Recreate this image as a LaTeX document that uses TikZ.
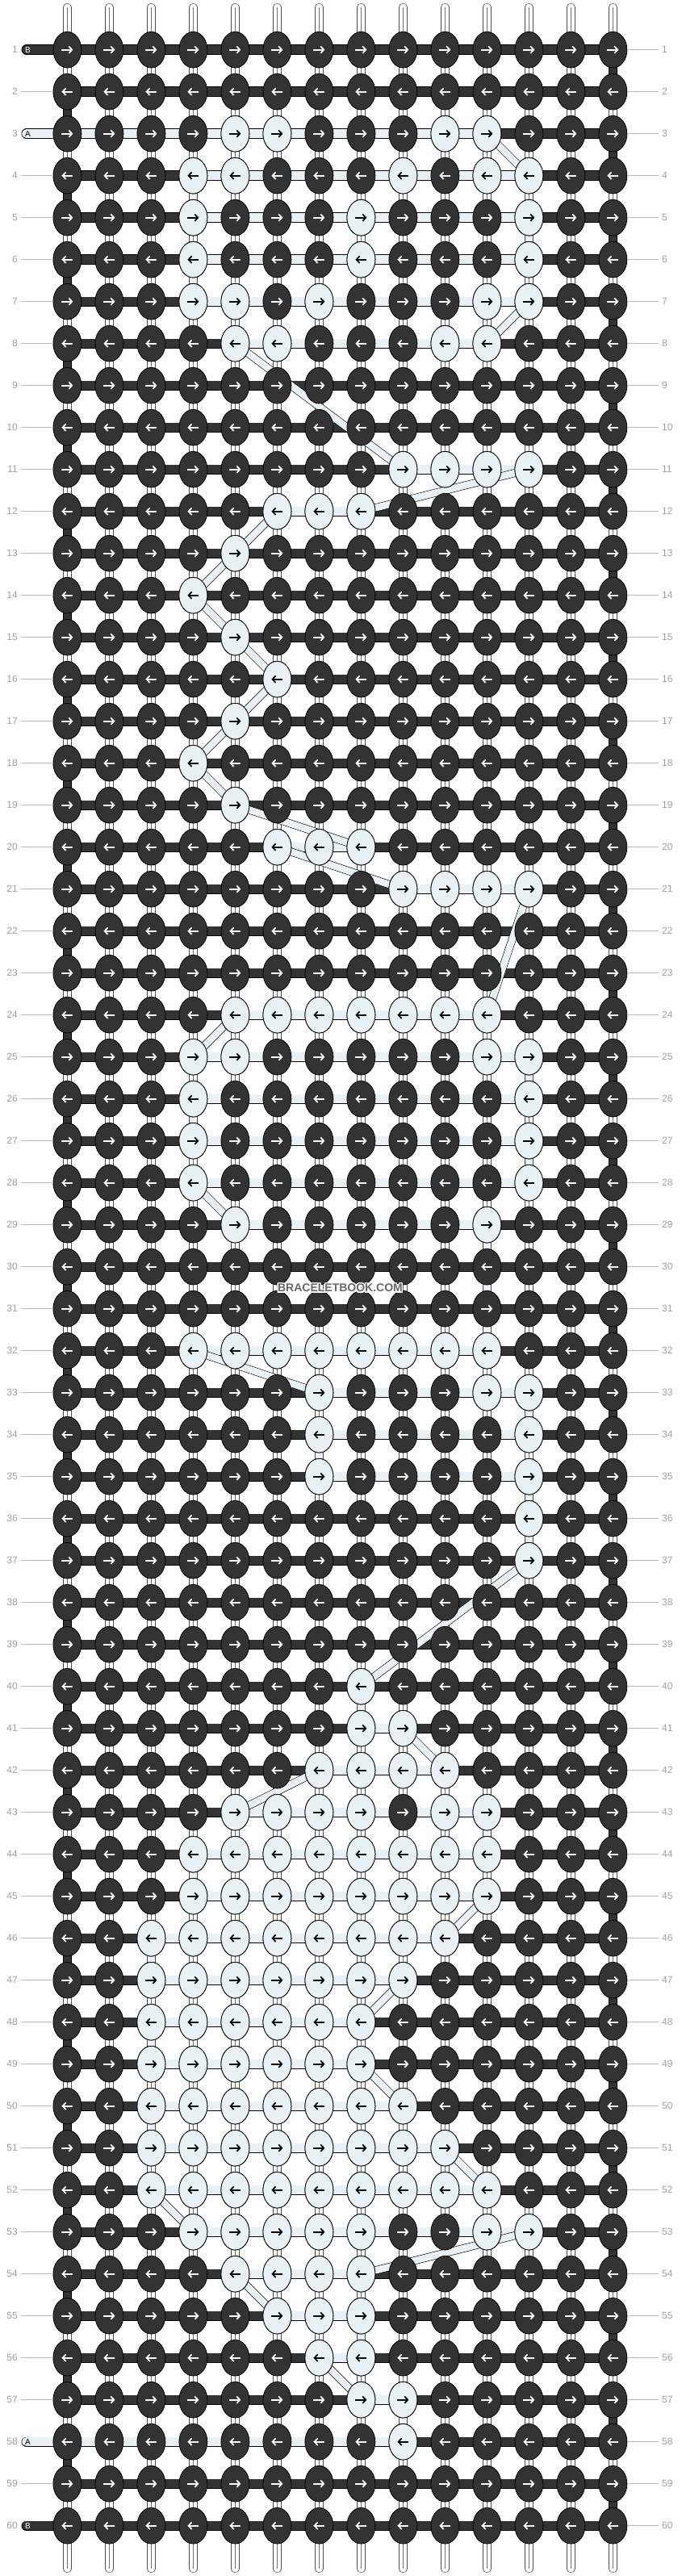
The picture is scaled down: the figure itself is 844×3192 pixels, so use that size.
\documentclass[tikz,border=0pt]{standalone}
\usepackage{fontspec}
\setmainfont{Liberation Sans}
\usetikzlibrary{shapes.geometric, arrows.meta}

\definecolor{knotdark}{RGB}{51,51,51}
\definecolor{knotlight}{RGB}{233,241,244}
\definecolor{rowgray}{RGB}{158,158,158}
\definecolor{markgray}{RGB}{105,105,105}

\pgfdeclarelayer{strings}
\pgfdeclarelayer{bars}
\pgfdeclarelayer{strips}
\pgfsetlayers{strings,bars,strips,main}

\begin{document}
\begin{tikzpicture}[
  x=1pt, y=-1pt,
  every node/.style={font=\fontsize{12}{14}\selectfont},
  knot/.style={ellipse, draw=black, line width=0.8pt, inner sep=0pt, minimum width=35pt, minimum height=44.6pt},
  knotarrow/.style={line width=1.7pt, -{Straight Barb[length=4pt, width=8.5pt]}},
  arrowR/.style={path picture={\draw[knotarrow, draw=#1] ([xshift=-7pt]path picture bounding box.center) -- ([xshift=7pt]path picture bounding box.center);}},
  arrowL/.style={path picture={\draw[knotarrow, draw=#1] ([xshift=7pt]path picture bounding box.center) -- ([xshift=-7pt]path picture bounding box.center);}},
  darkR/.style={knot, fill=knotdark, arrowR=white},
  darkL/.style={knot, fill=knotdark, arrowL=white},
  lightR/.style={knot, fill=knotlight, arrowR=black},
  lightL/.style={knot, fill=knotlight, arrowL=black},
  darkbar/.style={draw=black, line width=0.7pt, double=knotdark, double distance=11pt, line cap=round},
  lightbar/.style={darkbar, double=knotlight},
  edgebar/.style={draw=black, line width=0.6pt, double=knotdark, double distance=9.4pt},
  strip/.style={draw=black, line width=0.6pt, double=knotlight, double distance=8.6pt, line cap=round},
  stringpair/.style={draw=black!70, line width=0.6pt, double=white, double distance=9pt, line cap=round},
  stringmid/.style={draw=black!55, line width=0.5pt},
  rowline/.style={draw=rowgray!70, line width=0.8pt},
  rownum/.style={text=rowgray, inner sep=0pt},
  tagtext/.style={inner sep=0pt, font=\fontsize{10}{12}\selectfont},
  wmark/.style={inner sep=0pt, font=\fontsize{14}{16}\selectfont\bfseries}
]
\useasboundingbox (0,0) rectangle (844,3192);

% knots, all dark first
\foreach \r in {1,...,60} {
  \pgfmathsetmacro\yy{61.7+52*(\r-1)}
  \foreach \c in {1,...,14} {
    \pgfmathsetmacro\xx{83.4+52*(\c-1)}
    \ifodd\r\relax
      \node[darkR] (k-\r-\c) at (\xx,\yy) {};
    \else
      \node[darkL] (k-\r-\c) at (\xx,\yy) {};
    \fi
  }
  \node[rownum, anchor=east] (ln-\r) at (22,\yy) {\r};
  \node[rownum, anchor=west] (rn-\r) at (820,\yy) {\r};
  \coordinate (lt-\r) at (26,\yy);
  \coordinate (rt-\r) at (816,\yy);
  \coordinate (k-\r-0) at (32.7,\yy);
}

% row number lines
\foreach \r in {2,4,5,...,57,59}
  \draw[rowline] (lt-\r) -- (k-\r-1);
\foreach \r in {1,...,60}
  \draw[rowline] (k-\r-14) -- (rt-\r);

% string tags
\node[tagtext, text=white] (tag-B1) at (34.5,61.7) {B};
\node[tagtext, text=black] (tag-A3) at (34.5,165.7) {A};
\node[tagtext, text=black] (tag-A58) at (34.5,3025.7) {A};
\node[tagtext, text=white] (tag-B60) at (34.5,3129.7) {B};

% dark working strings and turns at the edges
\begin{pgfonlayer}{bars}
  \foreach \r in {2,...,59}
    \draw[darkbar] (k-\r-1.center) -- (k-\r-14.center);
  \foreach \r in {1,60}
    \draw[darkbar] (k-\r-0) -- (k-\r-14.center);
  \foreach \r [evaluate=\r as \rn using int(\r+1)] in {2,4,...,58}
    \draw[edgebar] (k-\r-1.center) -- (k-\rn-1.center);
  \foreach \r [evaluate=\r as \rn using int(\r+1)] in {1,3,...,59}
    \draw[edgebar] (k-\r-14.center) -- (k-\rn-14.center);
\end{pgfonlayer}

% light knots: row / first / last / columns
\foreach \r/\lo/\hi/\cols in {3/0/11/{5,6,10,11}, 4/4/12/{4,5,9,11,12},
    5/4/12/{4,8,12}, 6/4/12/{4,8,12}, 7/4/12/{4,5,7,11,12}, 8/5/11/{5,6,10,11},
    11/9/12/{9,...,12}, 12/6/8/{6,7,8}, 13/5/5/{5}, 14/4/4/{4}, 15/5/5/{5},
    16/6/6/{6}, 17/5/5/{5}, 18/4/4/{4}, 19/5/5/{5}, 20/6/8/{6,7,8},
    21/9/12/{9,...,12}, 24/5/11/{5,...,11}, 25/4/12/{4,5,11,12}, 26/4/12/{4,12},
    27/4/12/{4,12}, 28/4/12/{4,12}, 29/5/11/{5,11}, 32/4/11/{4,...,11},
    33/7/12/{7,11,12}, 34/7/12/{7,12}, 35/7/12/{7,12}, 36/12/12/{12},
    37/12/12/{12}, 40/8/8/{8}, 41/8/9/{8,9}, 42/7/10/{7,...,10},
    43/5/11/{5,6,7,8,10,11}, 44/4/11/{4,...,11}, 45/4/11/{4,...,11},
    46/3/10/{3,...,10}, 47/3/9/{3,...,9}, 48/3/8/{3,...,8}, 49/3/8/{3,...,8},
    50/3/9/{3,...,9}, 51/3/10/{3,...,10}, 52/3/11/{3,...,11},
    53/4/12/{4,5,6,7,8,11,12}, 54/5/8/{5,...,8}, 55/6/8/{6,7,8}, 56/7/8/{7,8},
    57/8/9/{8,9}, 58/0/9/{9}} {
  \pgfmathsetmacro\yy{61.7+52*(\r-1)}
  \foreach \c in \cols {
    \pgfmathsetmacro\xx{83.4+52*(\c-1)}
    \ifodd\r\relax
      \node[lightR] (k-\r-\c) at (\xx,\yy) {};
    \else
      \node[lightL] (k-\r-\c) at (\xx,\yy) {};
    \fi
  }
  \ifnum\lo<\hi\relax
    \begin{pgfonlayer}{bars}
      \draw[lightbar] (k-\r-\lo.center) -- (k-\r-\hi.center);
    \end{pgfonlayer}
  \fi
}

% light string between rows
\begin{pgfonlayer}{strips}
  \foreach \ra/\ca/\rb/\cb in {3/11/4/12, 4/4/5/4, 5/12/6/12, 6/4/7/4, 7/12/8/11,
      8/5/11/9, 11/12/12/8, 12/6/13/5, 13/5/14/4, 14/4/15/5, 15/5/16/6, 16/6/17/5,
      17/5/18/4, 18/4/19/5, 19/5/20/8, 20/6/21/9, 21/12/24/11, 24/5/25/4,
      25/12/26/12, 26/4/27/4, 27/12/28/12, 28/4/29/5, 29/11/32/11, 32/4/33/7,
      33/12/34/12, 34/7/35/7, 35/12/36/12, 36/12/37/12, 37/12/40/8, 40/8/41/8,
      41/9/42/10, 42/7/43/5, 43/11/44/11, 44/4/45/4, 45/11/46/10, 46/3/47/3,
      47/9/48/8, 48/3/49/3, 49/8/50/9, 50/3/51/3, 51/10/52/11, 52/3/53/4,
      53/12/54/8, 54/5/55/6, 55/8/56/8, 56/7/57/8, 57/9/58/9}
    \draw[strip] (k-\ra-\ca.center) -- (k-\rb-\cb.center);
\end{pgfonlayer}

% vertical strings
\begin{pgfonlayer}{strings}
  \foreach \c in {1,...,14} {
    \pgfmathsetmacro\xx{83.4+52*(\c-1)}
    \coordinate (top-\c) at (\xx,9);
    \coordinate (bot-\c) at (\xx,3183);
    \draw[stringpair] (top-\c) -- (bot-\c);
    \draw[stringmid] (top-\c) -- (bot-\c);
  }
\end{pgfonlayer}

% watermark
\foreach \dx/\dy [count=\i] in {-1.2/-1.2,-1.2/0,-1.2/1.2,0/-1.2,0/1.2,1.2/-1.2,1.2/0,1.2/1.2}
  \node[wmark, text=white, xshift=\dx pt, yshift=\dy pt] (wm-\i) at (421.5,1596) {BRACELETBOOK.COM};
\node[wmark, text=markgray] (wm) at (421.5,1596) {BRACELETBOOK.COM};

\end{tikzpicture}
\end{document}
